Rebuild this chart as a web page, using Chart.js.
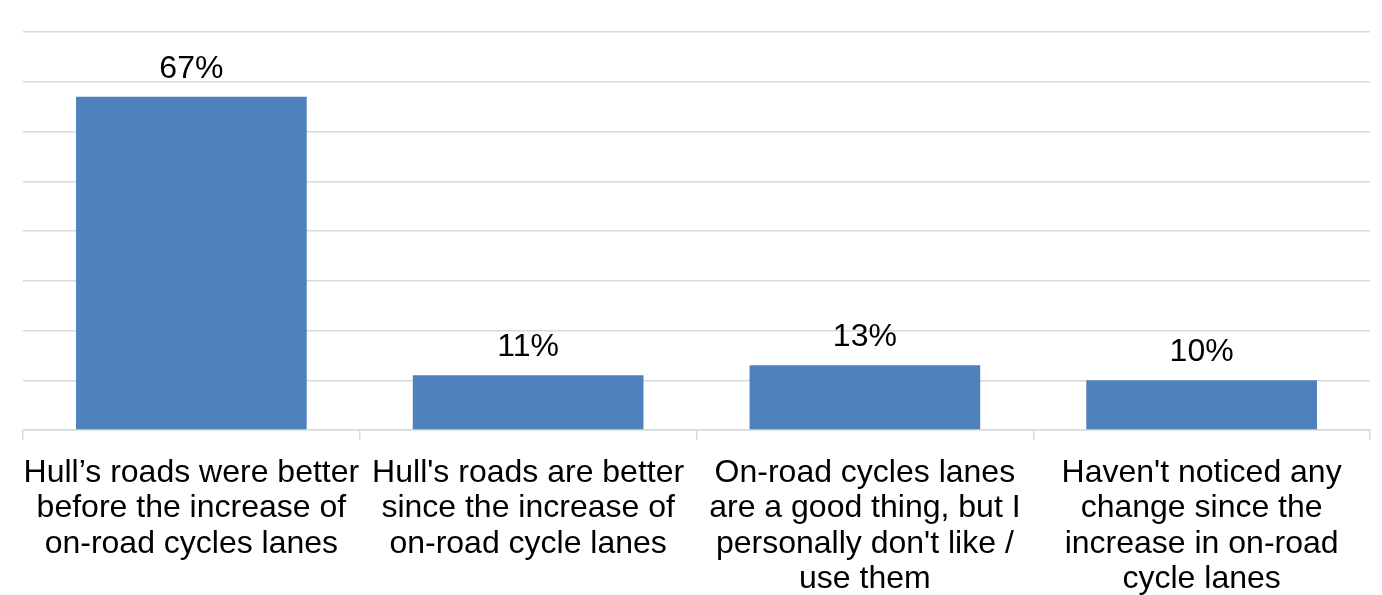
<!DOCTYPE html>
<html>
<head>
<meta charset="utf-8">
<script src="https://cdn.jsdelivr.net/npm/chart.js@4/dist/chart.umd.min.js"></script>
<style>
  html, body { margin: 0; padding: 0; background: #fff; }
  #wrap { width: 1382px; height: 595px; }
</style>
</head>
<body>
<div id="wrap"><canvas id="registrationChart" width="1382" height="595"></canvas></div>
<script>
// categories (already split into lines as in the picture)
const categories = [
    ["Hull\u2019s roads were better", "before the increase of", "on-road cycles lanes"],
    ["Hull's roads are better", "since the increase of", "on-road cycle lanes"],
    ["On-road cycles lanes", "are a good thing, but I", "personally don't like /", "use them"],
    ["Haven't noticed any", "change since the", "increase in on-road", "cycle lanes"]
];
const percentValues = [67, 11, 13, 10];
const yTicks = [0, 10, 20, 30, 40, 50, 60, 70, 80];

// simple value labels above each bar
const barLabels = {
    id: 'barLabels',
    afterDatasetsDraw(chart) {
        const ctx = chart.ctx;
        const meta = chart.getDatasetMeta(0);
        ctx.save();
        ctx.font = '32px "Liberation Sans", Arial, sans-serif';
        ctx.fillStyle = '#000';
        ctx.textAlign = 'center';
        ctx.textBaseline = 'alphabetic';
        meta.data.forEach((bar, i) => {
            ctx.fillText(percentValues[i] + '%', bar.x, bar.y - 19);
        });
        ctx.restore();
    }
};

const ctx = document.getElementById('registrationChart').getContext('2d');
new Chart(ctx, {
    type: 'bar',
    data: {
        labels: categories,
        datasets: [{
            data: percentValues,
            backgroundColor: '#4F81BD',
            borderWidth: 0,
            barPercentage: 0.685,
            categoryPercentage: 1
        }]
    },
    options: {
        responsive: false,
        animation: false,
        layout: { padding: { left: 23, right: 12, top: 32, bottom: 0 } },
        scales: {
            x: {
                grid: {
                    drawOnChartArea: false,
                    color: '#D9D9D9',
                    lineWidth: 1.5,
                    tickLength: 10
                },
                border: { color: '#D9D9D9', width: 1.5 },
                ticks: {
                    color: '#000',
                    font: { family: '"Liberation Sans", Arial, sans-serif', size: 32, lineHeight: 1.11 },
                    maxRotation: 0,
                    autoSkip: false,
                    padding: 15
                },
                afterFit(scale) { scale.height = 165; }
            },
            y: {
                min: 0,
                max: 80,
                afterBuildTicks(scale) { scale.ticks = yTicks.map(v => ({ value: v })); },
                ticks: { display: false },
                grid: { color: '#D9D9D9', lineWidth: 1.5, drawTicks: false },
                border: { display: false },
                afterFit(scale) { scale.width = 0; }
            }
        },
        plugins: {
            legend: { display: false },
            tooltip: { enabled: false }
        }
    },
    plugins: [barLabels]
});
</script>
</body>
</html>
